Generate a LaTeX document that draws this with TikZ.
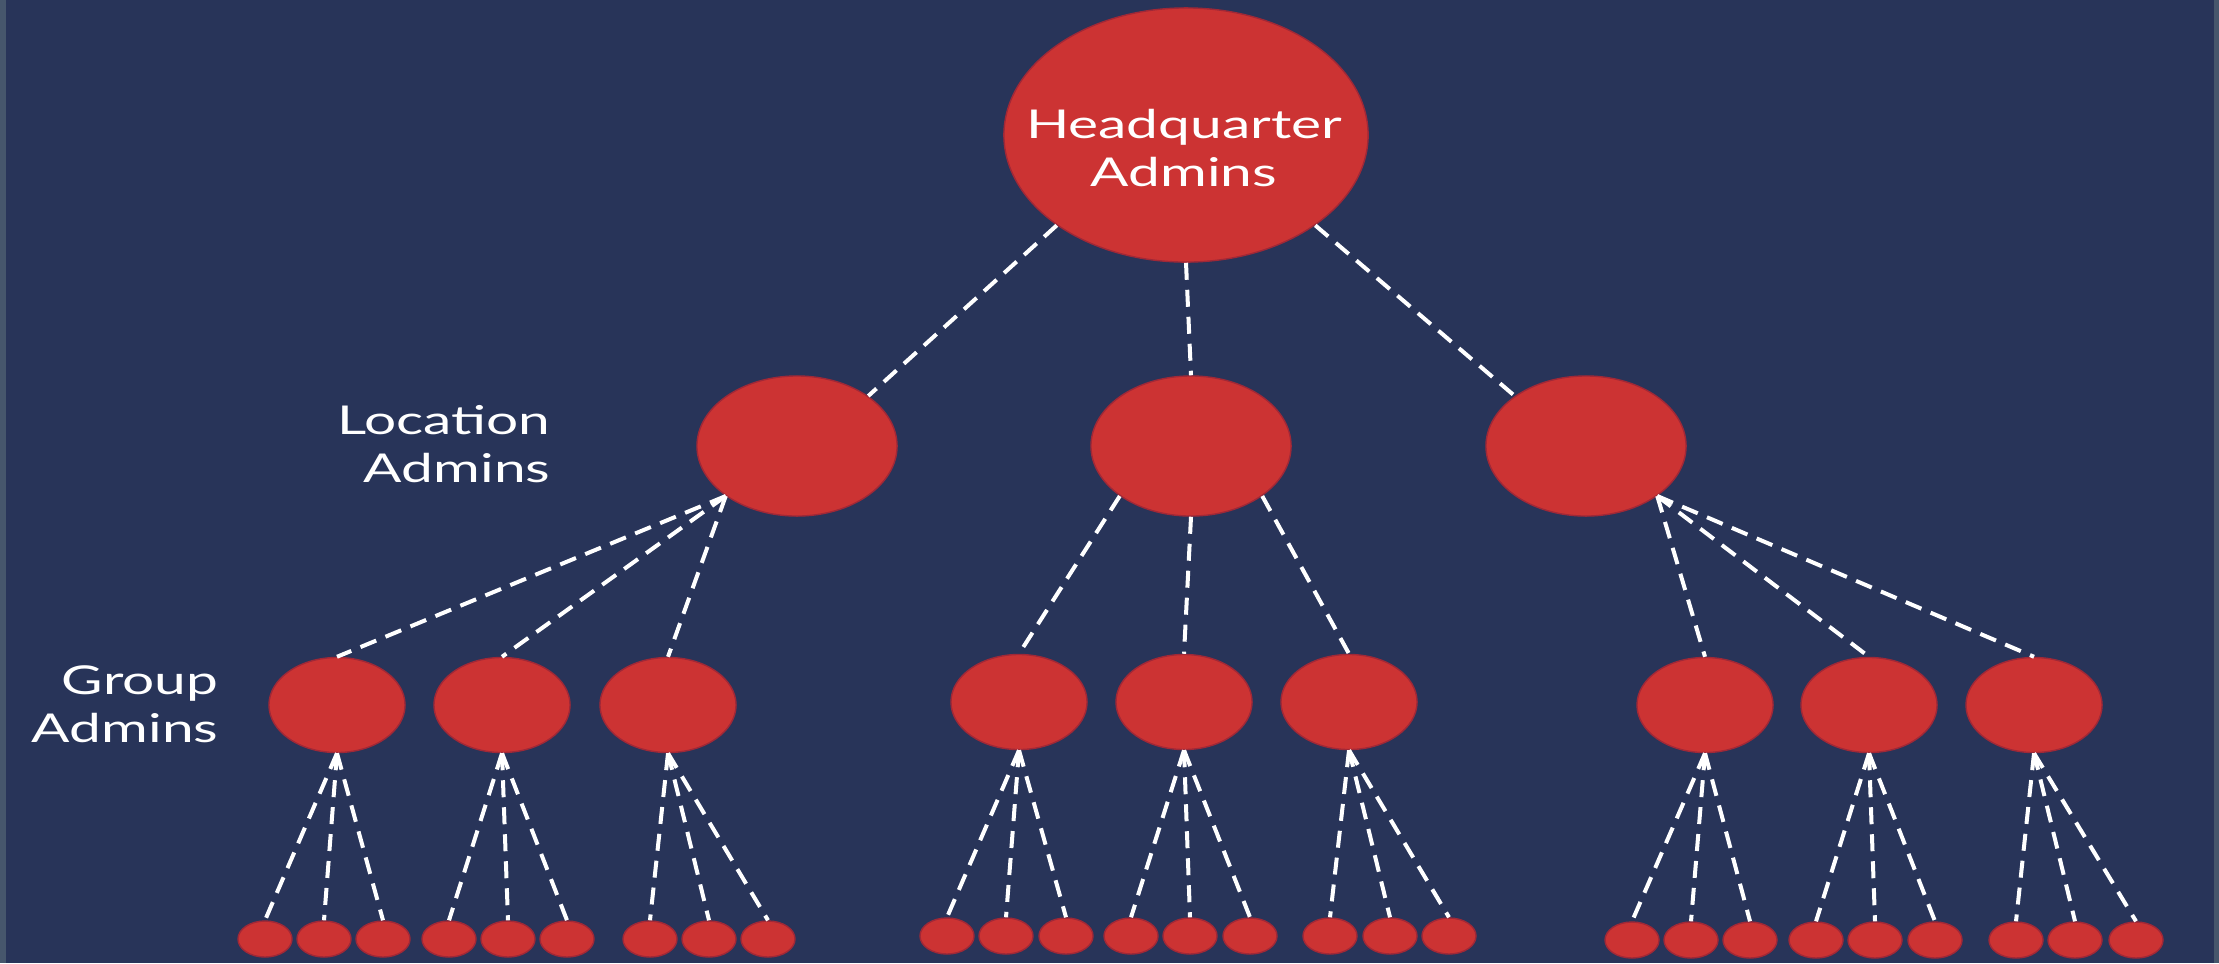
\documentclass[tikz,border=0pt]{standalone}
\usepackage{fontspec}
\setmainfont[FakeStretch=1.43]{Lato}
\usepackage{tikz}
\usetikzlibrary{shapes.geometric}

\definecolor{slide}{RGB}{40,52,89}
\definecolor{slideedge}{RGB}{70,86,108}
\definecolor{adminred}{RGB}{204,51,51}
\definecolor{adminrim}{RGB}{160,40,55}

\begin{document}
\begin{tikzpicture}[x=0.01cm,y=-0.01cm,
                    every edge/.style={draw=white,line width=0.04cm,
                                       dash pattern=on 0.17cm off 0.1cm}]
\tikzstyle{admin}=[ellipse,fill=adminred,draw=adminrim,line width=0.4pt,inner sep=0pt]
\tikzstyle{hqadmin}=[admin,minimum width=3.64cm,minimum height=2.54cm]
\tikzstyle{locadmin}=[admin,minimum width=2cm,minimum height=1.4cm]
\tikzstyle{grpadmin}=[admin,minimum width=1.36cm,minimum height=0.95cm]
\tikzstyle{useradmin}=[admin,minimum width=0.54cm,minimum height=0.36cm]
\tikzstyle{caption}=[text=white,inner sep=0pt,font=\fontsize{11.3}{13.66}\selectfont]

% slide
\fill[slideedge] (0,0) rectangle (2219,963);
\fill[slide] (6,0) rectangle (2214,963);

\node[hqadmin]	(hq)	at (1186,135)	{};
\node[caption,align=center]	(hqtext)	at (1184,148)	{Headquarter\\Admins};

\node[locadmin]	(loc1)	at (797,446)	{};
\node[locadmin]	(loc2)	at (1191,446)	{};
\node[locadmin]	(loc3)	at (1586,446)	{};
\node[caption,align=right,anchor=east]	(loctext)	at (551,444)	{Location\\Admins};

\node[grpadmin]	(g1)	at (337,705)	{};
\node[grpadmin]	(g2)	at (502,705)	{};
\node[grpadmin]	(g3)	at (668,705)	{};
\node[grpadmin]	(g4)	at (1019,702)	{};
\node[grpadmin]	(g5)	at (1184,702)	{};
\node[grpadmin]	(g6)	at (1349,702)	{};
\node[grpadmin]	(g7)	at (1705,705)	{};
\node[grpadmin]	(g8)	at (1869,705)	{};
\node[grpadmin]	(g9)	at (2034,705)	{};
\node[caption,align=right,anchor=east]	(grptext)	at (219,704)	{Group\\Admins};

% bottom row
\node[useradmin]	(g1a)	at (265,939)	{};
\node[useradmin]	(g1b)	at (324,939)	{};
\node[useradmin]	(g1c)	at (383,939)	{};
\node[useradmin]	(g2a)	at (449,939)	{};
\node[useradmin]	(g2b)	at (508,939)	{};
\node[useradmin]	(g2c)	at (567,939)	{};
\node[useradmin]	(g3a)	at (650,939)	{};
\node[useradmin]	(g3b)	at (709,939)	{};
\node[useradmin]	(g3c)	at (768,939)	{};
\node[useradmin]	(g4a)	at (947,936)	{};
\node[useradmin]	(g4b)	at (1006,936)	{};
\node[useradmin]	(g4c)	at (1066,936)	{};
\node[useradmin]	(g5a)	at (1131,936)	{};
\node[useradmin]	(g5b)	at (1190,936)	{};
\node[useradmin]	(g5c)	at (1250,936)	{};
\node[useradmin]	(g6a)	at (1330,936)	{};
\node[useradmin]	(g6b)	at (1390,936)	{};
\node[useradmin]	(g6c)	at (1449,936)	{};
\node[useradmin]	(g7a)	at (1632,940)	{};
\node[useradmin]	(g7b)	at (1691,940)	{};
\node[useradmin]	(g7c)	at (1750,940)	{};
\node[useradmin]	(g8a)	at (1816,940)	{};
\node[useradmin]	(g8b)	at (1875,940)	{};
\node[useradmin]	(g8c)	at (1935,940)	{};
\node[useradmin]	(g9a)	at (2016,940)	{};
\node[useradmin]	(g9b)	at (2075,940)	{};
\node[useradmin]	(g9c)	at (2136,940)	{};

\path	(hq.south west)	edge	(loc1.north east)
	(hq.south)	edge	(loc2.north)
	(hq.south east)	edge	(loc3.north west)
	(loc1.south west)	edge	(g1.north)
	(loc1.south west)	edge	(g2.north)
	(loc1.south west)	edge	(g3.north)
	(loc2.south west)	edge	(g4.north)
	(loc2.south)	edge	(g5.north)
	(loc2.south east)	edge	(g6.north)
	(loc3.south east)	edge	(g7.north)
	(loc3.south east)	edge	(g8.north)
	(loc3.south east)	edge	(g9.north);

\path	(g1.south)	edge	(g1a.north)	(g1.south)	edge	(g1b.north)	(g1.south)	edge	(g1c.north)
	(g2.south)	edge	(g2a.north)	(g2.south)	edge	(g2b.north)	(g2.south)	edge	(g2c.north)
	(g3.south)	edge	(g3a.north)	(g3.south)	edge	(g3b.north)	(g3.south)	edge	(g3c.north)
	(g4.south)	edge	(g4a.north)	(g4.south)	edge	(g4b.north)	(g4.south)	edge	(g4c.north)
	(g5.south)	edge	(g5a.north)	(g5.south)	edge	(g5b.north)	(g5.south)	edge	(g5c.north)
	(g6.south)	edge	(g6a.north)	(g6.south)	edge	(g6b.north)	(g6.south)	edge	(g6c.north)
	(g7.south)	edge	(g7a.north)	(g7.south)	edge	(g7b.north)	(g7.south)	edge	(g7c.north)
	(g8.south)	edge	(g8a.north)	(g8.south)	edge	(g8b.north)	(g8.south)	edge	(g8c.north)
	(g9.south)	edge	(g9a.north)	(g9.south)	edge	(g9b.north)	(g9.south)	edge	(g9c.north);

\end{tikzpicture}
\end{document}
